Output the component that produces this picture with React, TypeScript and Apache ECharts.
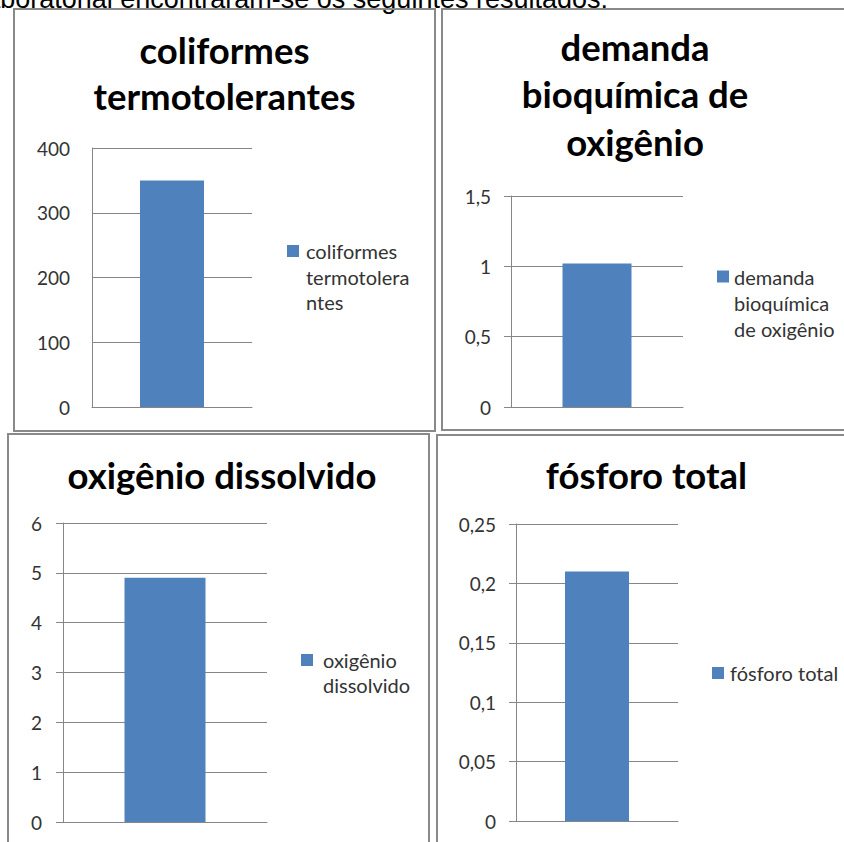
import React, { useEffect, useRef } from 'react';
import * as echarts from 'echarts';

const introText = 'laboratorial encontraram-se os seguintes resultados:';
const categories = [''];
const seriesNames = [
  'coliformes termotolerantes',
  'demanda bioquímica de oxigênio',
  'oxigênio dissolvido',
  'fósforo total',
];
const seriesValues = [350, 1.02, 4.9, 0.21];
const titleTexts = [
  'coliformes\ntermotolerantes',
  'demanda\nbioquímica de\noxigênio',
  'oxigênio dissolvido',
  'fósforo total',
];
const legendLabels = [
  'coliformes\ntermotolera\nntes',
  'demanda\nbioquímica\nde oxigênio',
  'oxigênio\ndissolvido',
  'fósforo total',
];
const axisMax = [400, 1.5, 6, 0.25];
const axisStep = [100, 0.5, 1, 0.05];

// layout (pixels)
const gridBoxes = [
  { left: 92, top: 148, width: 160, height: 259 },
  { left: 511, top: 196, width: 172, height: 211 },
  { left: 63, top: 523, width: 204, height: 299 },
  { left: 516, top: 524, width: 162, height: 297 },
];
const barWidths = [64, 69, 81, 64];
const showTicks = [false, true, true, true];
const labelMargins = [22, 20, 21, 20];
const titleBoxes = [
  { x: 224.5, top: 27, lh: 46 },
  { x: 635, top: 23, lh: 47.5 },
  { x: 222, top: 452, lh: 46 },
  { x: 646.5, top: 452, lh: 46 },
];
const legendBoxes = [
  { left: 287, c: 251, lh: 25.5, padL: 2 },
  { left: 717, c: 276.5, lh: 26, padL: 0 },
  { left: 301, c: 660, lh: 25, padL: 5 },
  { left: 712, c: 673, lh: 25, padL: 1 },
];
const panelRects = [
  { x: 14, y: 9, w: 421, h: 422 },
  { x: 442, y: 9, w: 420, h: 421 },
  { x: 8, y: 434, w: 421, h: 430 },
  { x: 437, y: 435, w: 430, h: 430 },
];

const FONT = 'Lato';
const GREY = '#868686';
const BLUE = '#4F81BD';
const TEXT = '#333333';

export default function App() {
  const ref = useRef<HTMLDivElement>(null);
  useEffect(() => {
    if (!ref.current) return;
    const chart = echarts.init(ref.current, null, { renderer: 'svg' });
    const fmt = (v: number) => String(Number(v.toFixed(4))).replace('.', ',');
    const option: any = {
      animation: false,
      backgroundColor: '#ffffff',
      textStyle: { fontFamily: FONT },
      title: titleTexts.map((t, i) => ({
        text: t,
        left: titleBoxes[i].x,
        top: titleBoxes[i].top,
        textAlign: 'center',
        padding: 0,
        textStyle: {
          fontFamily: FONT,
          fontWeight: 'bold',
          fontSize: 36.5,
          lineHeight: titleBoxes[i].lh,
          color: '#000000',
        },
      })),
      legend: seriesNames.map((name, i) => {
        const n = legendLabels[i].split('\n').length;
        const L = legendBoxes[i].lh;
        // leading blank lines keep the first text line level with the icon
        const label = '\n'.repeat(n - 1) + legendLabels[i];
        return {
          data: [name],
          orient: 'vertical',
          left: legendBoxes[i].left,
          top: legendBoxes[i].c - ((2 * n - 1) * L) / 2,
          padding: 0,
          icon: 'rect',
          itemWidth: 12,
          itemHeight: 12,
          selectedMode: false,
          formatter: () => label,
          textStyle: {
            fontFamily: FONT,
            fontSize: 20,
            lineHeight: L,
            color: TEXT,
            padding: [0, 0, 0, legendBoxes[i].padL],
          },
        };
      }),
      grid: gridBoxes.map((g) => ({ ...g, containLabel: false })),
      xAxis: gridBoxes.map((_, i) => ({
        type: 'category',
        gridIndex: i,
        data: categories,
        axisLine: { show: true, lineStyle: { color: GREY, width: 1 } },
        axisTick: { show: false },
        axisLabel: { show: false },
      })),
      yAxis: gridBoxes.map((_, i) => ({
        type: 'value',
        gridIndex: i,
        min: 0,
        max: axisMax[i],
        interval: axisStep[i],
        axisLine: { show: true, lineStyle: { color: GREY, width: 1 } },
        axisTick: { show: showTicks[i], length: 7, lineStyle: { color: GREY } },
        splitLine: { show: true, lineStyle: { color: GREY, width: 1 } },
        axisLabel: {
          margin: labelMargins[i],
          fontFamily: FONT,
          fontSize: 19,
          color: TEXT,
          formatter: fmt,
        },
      })),
      series: seriesNames.map((name, i) => ({
        type: 'bar',
        name,
        xAxisIndex: i,
        yAxisIndex: i,
        data: [seriesValues[i]],
        barWidth: barWidths[i],
        itemStyle: { color: BLUE },
      })),
      graphic: [
        ...panelRects.map((r) => ({
          type: 'rect',
          shape: { x: r.x, y: r.y, width: r.w, height: r.h },
          style: { fill: 'none', stroke: '#898989', lineWidth: 2 },
          silent: true,
          z: 100,
        })),
        {
          type: 'text',
          x: 608,
          y: -1.5,
          style: {
            text: introText,
            fontFamily: 'Liberation Sans',
            fontSize: 27,
            fill: '#000000',
            textAlign: 'right',
            textVerticalAlign: 'middle',
          },
          silent: true,
        },
      ],
    };
    chart.setOption(option);
    return () => chart.dispose();
  }, []);
  return (
    <div
      ref={ref}
      style={{ position: 'absolute', left: 0, top: 0, width: 844, height: 842 }}
    />
  );
}
